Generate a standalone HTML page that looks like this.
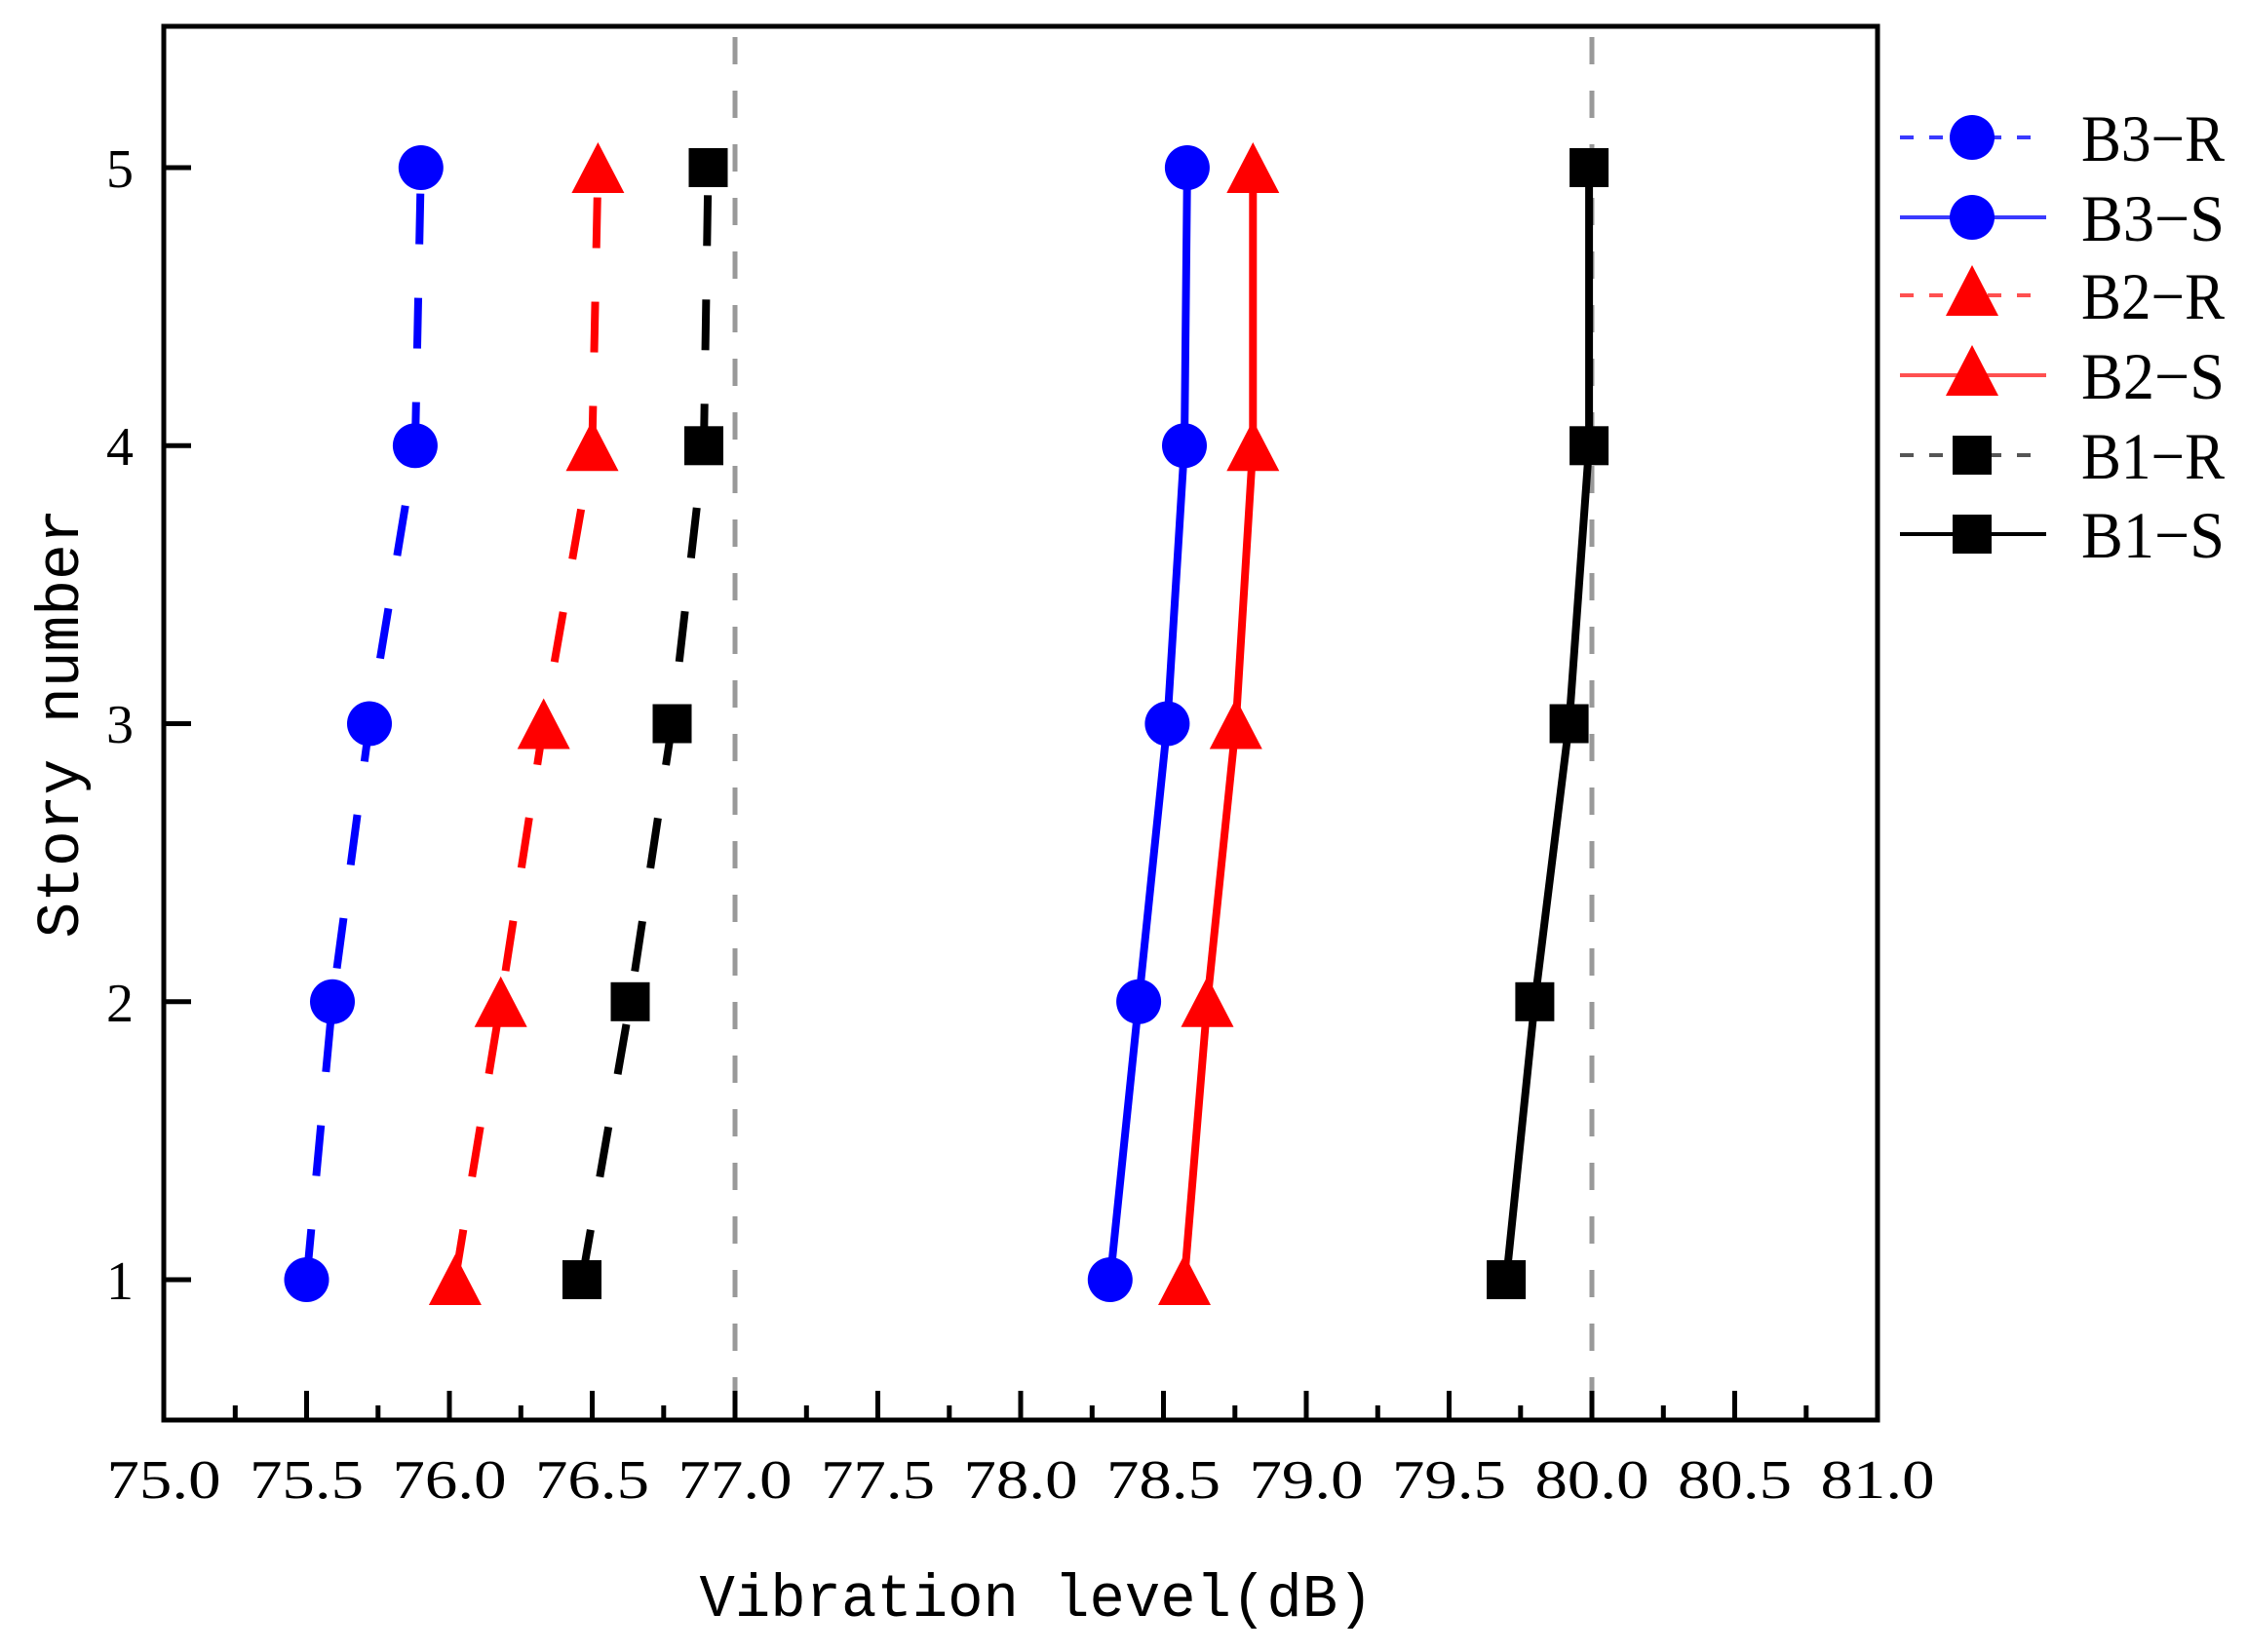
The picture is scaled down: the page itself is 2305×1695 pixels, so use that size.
<!DOCTYPE html>
<html><head><meta charset="utf-8"><style>body{margin:0;background:#fff}svg{display:block}</style></head><body>
<svg width="2305" height="1695" viewBox="0 0 2305 1695" xmlns="http://www.w3.org/2000/svg">
<rect width="2305" height="1695" fill="#fff"/>
<defs>
<circle id="c" r="23" fill="#0000ff"/>
<polygon id="t" points="0,-26 27,26 -27,26" fill="#ff0000"/>
<rect id="s" x="-20" y="-20" width="40" height="40" fill="#000"/>
</defs>
<g stroke="#999" stroke-width="5" stroke-dasharray="28,27">
<line x1="754" y1="38" x2="754" y2="1455"/>
<line x1="1633" y1="38" x2="1633" y2="1455"/>
</g>
<g fill="none" stroke-width="8">
<polyline stroke="#0000ff" stroke-dasharray="52,55" points="314.5,1313 341,1027.8 379,742.5 425.9,457.3 431.8,172"/>
<polyline stroke="#ff0000" stroke-dasharray="52,55" points="466.9,1313 513.7,1027.8 557.7,742.5 607.5,457.3 613.4,172"/>
<polyline stroke="#000" stroke-dasharray="52,55" points="597,1313 646.5,1027.8 689.5,742.5 722,457.3 726.5,172"/>
<polyline stroke="#0000ff" points="1138.8,1313 1168.1,1027.8 1197.4,742.5 1215,457.3 1217.9,172"/>
<polyline stroke="#ff0000" points="1215,1313 1238.5,1027.8 1267.8,742.5 1285.3,457.3 1285.3,172"/>
<polyline stroke="#000" points="1545.1,1313 1574.4,1027.8 1609.6,742.5 1630.1,457.3 1630.1,172"/>
</g>
<g>
<use href="#c" x="314.5" y="1313"/><use href="#c" x="341" y="1027.8"/><use href="#c" x="379" y="742.5"/><use href="#c" x="425.9" y="457.3"/><use href="#c" x="431.8" y="172"/>
<use href="#t" x="466.9" y="1313"/><use href="#t" x="513.7" y="1027.8"/><use href="#t" x="557.7" y="742.5"/><use href="#t" x="607.5" y="457.3"/><use href="#t" x="613.4" y="172"/>
<use href="#s" x="597" y="1313"/><use href="#s" x="646.5" y="1027.8"/><use href="#s" x="689.5" y="742.5"/><use href="#s" x="722" y="457.3"/><use href="#s" x="726.5" y="172"/>
<use href="#c" x="1138.8" y="1313"/><use href="#c" x="1168.1" y="1027.8"/><use href="#c" x="1197.4" y="742.5"/><use href="#c" x="1215" y="457.3"/><use href="#c" x="1217.9" y="172"/>
<use href="#t" x="1215" y="1313"/><use href="#t" x="1238.5" y="1027.8"/><use href="#t" x="1267.8" y="742.5"/><use href="#t" x="1285.3" y="457.3"/><use href="#t" x="1285.3" y="172"/>
<use href="#s" x="1545.1" y="1313"/><use href="#s" x="1574.4" y="1027.8"/><use href="#s" x="1609.6" y="742.5"/><use href="#s" x="1630.1" y="457.3"/><use href="#s" x="1630.1" y="172"/>
</g>
<rect x="168" y="27" width="1758" height="1430" fill="none" stroke="#000" stroke-width="5"/>
<g stroke="#000" stroke-width="5">
<path d="M314.5,1457v-30M461,1457v-30M607.5,1457v-30M754,1457v-30M900.5,1457v-30M1047,1457v-30M1193.5,1457v-30M1340,1457v-30M1486.5,1457v-30M1633,1457v-30M1779.5,1457v-30"/>
<path d="M241.3,1457v-15M387.8,1457v-15M534.3,1457v-15M680.8,1457v-15M827.3,1457v-15M973.8,1457v-15M1120.3,1457v-15M1266.8,1457v-15M1413.3,1457v-15M1559.8,1457v-15M1706.3,1457v-15M1852.8,1457v-15"/>
<path d="M168,1313h28M168,1027.8h28M168,742.5h28M168,457.3h28M168,172h28"/>
</g>
<g font-family="Liberation Serif, serif" font-size="56" fill="#000" text-anchor="middle">
<text x="168" y="1537" textLength="117" lengthAdjust="spacingAndGlyphs">75.0</text>
<text x="314.5" y="1537" textLength="117" lengthAdjust="spacingAndGlyphs">75.5</text>
<text x="461" y="1537" textLength="117" lengthAdjust="spacingAndGlyphs">76.0</text>
<text x="607.5" y="1537" textLength="117" lengthAdjust="spacingAndGlyphs">76.5</text>
<text x="754" y="1537" textLength="117" lengthAdjust="spacingAndGlyphs">77.0</text>
<text x="900.5" y="1537" textLength="117" lengthAdjust="spacingAndGlyphs">77.5</text>
<text x="1047" y="1537" textLength="117" lengthAdjust="spacingAndGlyphs">78.0</text>
<text x="1193.5" y="1537" textLength="117" lengthAdjust="spacingAndGlyphs">78.5</text>
<text x="1340" y="1537" textLength="117" lengthAdjust="spacingAndGlyphs">79.0</text>
<text x="1486.5" y="1537" textLength="117" lengthAdjust="spacingAndGlyphs">79.5</text>
<text x="1633" y="1537" textLength="117" lengthAdjust="spacingAndGlyphs">80.0</text>
<text x="1779.5" y="1537" textLength="117" lengthAdjust="spacingAndGlyphs">80.5</text>
<text x="1926" y="1537" textLength="117" lengthAdjust="spacingAndGlyphs">81.0</text>
<text x="123" y="1333">1</text>
<text x="123" y="1048">2</text>
<text x="123" y="762">3</text>
<text x="123" y="477">4</text>
<text x="123" y="192">5</text>
</g>
<text x="1063" y="1658" font-family="Liberation Mono, monospace" font-size="62" text-anchor="middle" textLength="691" lengthAdjust="spacingAndGlyphs">Vibration level(dB)</text>
<text transform="translate(80,742) rotate(-90)" font-family="Liberation Mono, monospace" font-size="62" text-anchor="middle" textLength="441" lengthAdjust="spacingAndGlyphs">Story number</text>
<g stroke-width="4" fill="none">
<line x1="1949" y1="141" x2="2099" y2="141" stroke="#3a3aff" stroke-dasharray="14,16"/>
<line x1="1949" y1="223" x2="2099" y2="223" stroke="#3a3aff"/>
<line x1="1949" y1="303" x2="2099" y2="303" stroke="#ff5050" stroke-dasharray="14,16"/>
<line x1="1949" y1="385" x2="2099" y2="385" stroke="#ff5050"/>
<line x1="1949" y1="467" x2="2099" y2="467" stroke="#555" stroke-dasharray="14,16"/>
<line x1="1949" y1="548" x2="2099" y2="548" stroke="#000"/>
</g>
<use href="#c" x="2023" y="141"/><use href="#c" x="2023" y="223"/>
<use href="#t" x="2023" y="298"/><use href="#t" x="2023" y="380"/>
<use href="#s" x="2023" y="467"/><use href="#s" x="2023" y="548"/>
<g font-family="Liberation Serif, serif" font-size="68" fill="#000">
<text x="2135" y="165" textLength="147" lengthAdjust="spacingAndGlyphs">B3−R</text>
<text x="2135" y="247" textLength="147" lengthAdjust="spacingAndGlyphs">B3−S</text>
<text x="2135" y="327" textLength="147" lengthAdjust="spacingAndGlyphs">B2−R</text>
<text x="2135" y="409" textLength="147" lengthAdjust="spacingAndGlyphs">B2−S</text>
<text x="2135" y="491" textLength="147" lengthAdjust="spacingAndGlyphs">B1−R</text>
<text x="2135" y="572" textLength="147" lengthAdjust="spacingAndGlyphs">B1−S</text>
</g>
</svg>
</body></html>
